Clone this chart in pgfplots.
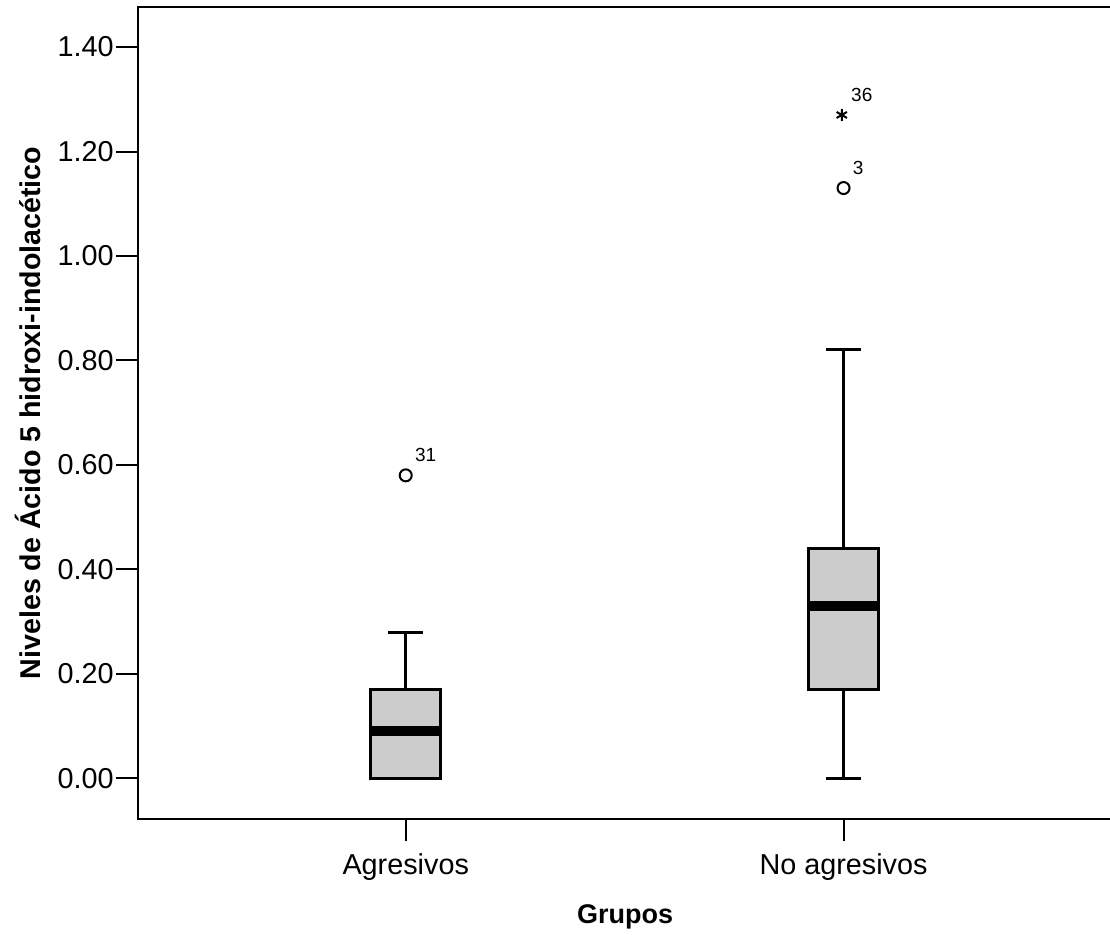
\documentclass[border=0pt]{standalone}
\usepackage{fontspec}
\setmainfont{Liberation Sans}
\usepackage{pgfplots}
\pgfplotsset{compat=1.18}
\usepgfplotslibrary{statistics}
\definecolor{boxgray}{RGB}{204,204,204}

\begin{document}
\begin{tikzpicture}
\begin{axis}[
    at={(0,0)}, anchor=south west,
    scale only axis,
    width=488.5pt, height=406pt,
    xmin=0.3885, xmax=2.620,
    ymin=-0.0779, ymax=1.4767,
    axis line style={line width=1pt},
    tick style={line width=1pt, black},
    major tick length=11pt,
    tick align=outside,
    xtick pos=bottom, ytick pos=left,
    xtick={1,2},
    xticklabels={Agresivos, No agresivos},
    ytick={0,0.2,...,1.41},
    yticklabel style={/pgf/number format/fixed, /pgf/number format/fixed zerofill,
        /pgf/number format/precision=2, inner sep=1pt},
    xticklabel style={yshift=-3pt},
    /pgf/number format/assume math mode=true,
    ticklabel style={font=\fontsize{14.4}{16}\selectfont},
    xlabel={Grupos},
    ylabel={Niveles de Ácido 5 hidroxi-indolacético},
    label style={inner sep=0pt},
    xlabel style={font=\fontsize{13.5}{16}\selectfont\bfseries,
        at={(axis description cs:0.4985,-0.1281)}, anchor=base},
    ylabel style={font=\fontsize{14.3}{16}\selectfont\bfseries,
        at={(axis description cs:-0.0993,0.5)}, anchor=south},
    boxplot/draw direction=y,
    boxplot/box extend=0.16,
    boxplot/whisker extend=0.08,
    boxplot/every box/.style={draw=black, line width=1.5pt, fill=boxgray},
    boxplot/every whisker/.style={draw=black, line width=1.5pt},
    boxplot/every median/.style={draw=black, line width=5pt},
]
% Agresivos, outlier 31
\addplot[black, mark=o, mark size=3pt, mark options={line width=1pt},
    boxplot prepared={
    lower whisker=0, lower quartile=0, median=0.09,
    upper quartile=0.17, upper whisker=0.28, draw position=1}]
    table[row sep=\\, y index=0] {data\\ 0.58\\};
% No agresivos, outlier 3
\addplot[black, mark=o, mark size=3pt, mark options={line width=1pt},
    boxplot prepared={
    lower whisker=0, lower quartile=0.17, median=0.33,
    upper quartile=0.44, upper whisker=0.82, draw position=2}]
    table[row sep=\\, y index=0] {data\\ 1.13\\};
% extreme value 36
\addplot[only marks, mark=asterisk, mark size=3pt, line width=1pt, black]
    coordinates {(1.996,1.27)};
% case labels
\addplot[draw=none, point meta=explicit symbolic, nodes near coords,
    every node near coord/.append style={anchor=south west, inner sep=0pt,
        xshift=4.5pt, yshift=6.5pt, font=\fontsize{9.5}{11}\selectfont}]
    coordinates {(1,0.58) [31] (2,1.13) [3] (1.996,1.27) [36]};
\end{axis}
\pgfresetboundingbox
\path[use as bounding box] (-69pt,-58pt) rectangle (486pt,409.5pt);
\end{tikzpicture}
\end{document}
